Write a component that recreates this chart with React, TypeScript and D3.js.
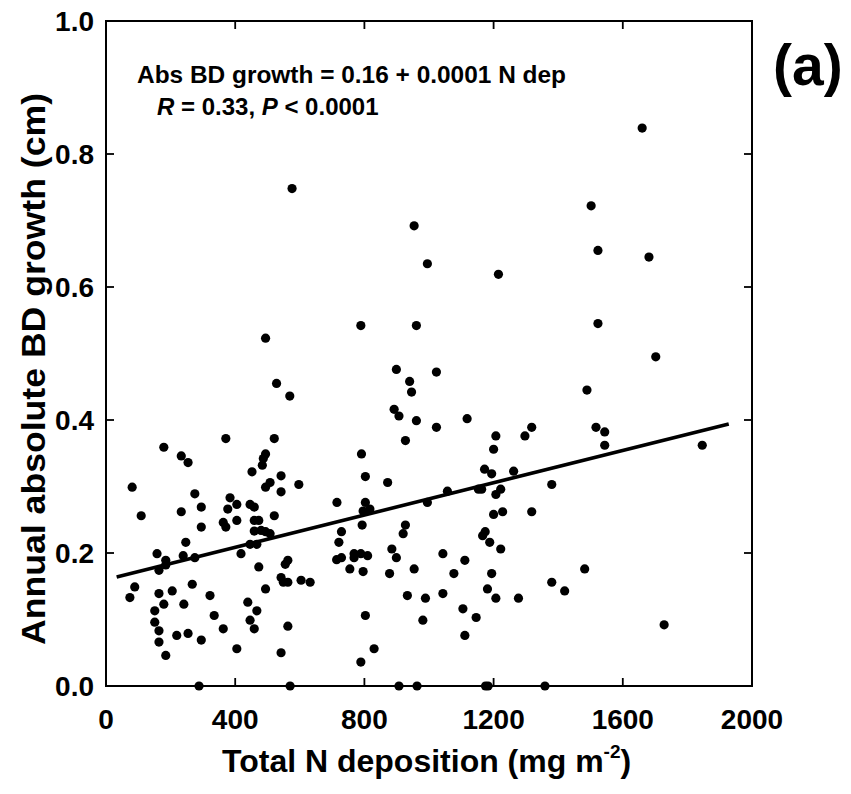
import React from "react";
import * as d3 from "d3";

// Total N deposition (mg m-2)
const nDep: number[] = [
  494, 528, 569, 371, 521, 179, 233, 254, 494, 487, 484, 452, 542, 508, 494, 542, 597, 81, 275, 384,
  377, 405, 295, 233, 446, 459, 109, 521, 363, 371, 405, 295, 459, 473, 459, 480, 494, 508, 247, 446,
  467, 158, 185, 185, 164, 239, 275, 418, 563, 555, 473, 542, 549, 563, 604, 632, 89, 74, 164, 205,
  267, 494, 322, 179, 241, 151, 439, 467, 335, 151, 446, 164, 363, 459, 563, 219, 254, 295, 164, 405,
  185, 542, 288, 570, 576,
  954, 995, 1215, 789, 961, 899, 1023, 940, 946, 892, 907, 961, 1023, 1118, 927, 1207, 1297, 1318, 1200, 791,
  803, 872, 1172, 1194, 1262, 1380, 715, 803, 817, 796, 995, 1057, 1153, 1163, 1222, 1207, 1200, 1228, 1318, 793,
  927, 920, 729, 721, 729, 714, 1174, 1166, 1188, 1222, 885, 768, 789, 810, 768, 899, 1043, 1111, 755, 796,
  878, 954, 1077, 1194, 1380, 933, 989, 1043, 1181, 1207, 1277, 1105, 1146, 803, 981, 1111, 830, 789,
  907, 963, 1175, 1183, 1359,
  1660, 1502, 1523, 1681, 1523, 1702, 1489, 1517, 1544, 1544, 1846, 1482, 1420, 1728,
];

// Annual absolute BD growth (cm)
const growth: number[] = [
  0.523, 0.455, 0.436, 0.372, 0.372, 0.359, 0.346, 0.336, 0.349, 0.342, 0.332, 0.322, 0.316, 0.306, 0.299, 0.292, 0.303, 0.299, 0.289, 0.283,
  0.266, 0.273, 0.269, 0.262, 0.273, 0.269, 0.256, 0.256, 0.246, 0.239, 0.249, 0.239, 0.249, 0.249, 0.233, 0.234, 0.232, 0.229, 0.216, 0.213,
  0.213, 0.199, 0.189, 0.182, 0.174, 0.196, 0.193, 0.199, 0.189, 0.183, 0.179, 0.163, 0.156, 0.156, 0.159, 0.156, 0.149, 0.133, 0.139, 0.143,
  0.153, 0.146, 0.136, 0.123, 0.123, 0.113, 0.126, 0.113, 0.106, 0.096, 0.099, 0.083, 0.086, 0.086, 0.09, 0.076, 0.079, 0.069, 0.066, 0.056,
  0.046, 0.05, 0, 0, 0.748,
  0.692, 0.635, 0.619, 0.542, 0.542, 0.476, 0.472, 0.458, 0.442, 0.416, 0.406, 0.399, 0.389, 0.402, 0.369, 0.376, 0.376, 0.389, 0.356, 0.349,
  0.315, 0.306, 0.326, 0.319, 0.323, 0.303, 0.276, 0.276, 0.266, 0.263, 0.276, 0.293, 0.296, 0.296, 0.296, 0.288, 0.258, 0.262, 0.262, 0.242,
  0.242, 0.229, 0.232, 0.216, 0.193, 0.19, 0.232, 0.226, 0.216, 0.206, 0.206, 0.199, 0.199, 0.196, 0.193, 0.193, 0.199, 0.189, 0.176, 0.172,
  0.169, 0.176, 0.169, 0.169, 0.156, 0.136, 0.132, 0.139, 0.146, 0.132, 0.132, 0.116, 0.103, 0.106, 0.099, 0.076, 0.056, 0.036,
  0, 0, 0, 0, 0,
  0.839, 0.722, 0.655, 0.645, 0.545, 0.495, 0.445, 0.389, 0.382, 0.362, 0.362, 0.176, 0.143, 0.092,
];

// Regression line endpoints
const fitX: number[] = [33, 1928];
const fitY: number[] = [0.164, 0.394];

const xTicks: number[] = [0, 400, 800, 1200, 1600, 2000];
const yTicks: number[] = [0, 0.2, 0.4, 0.6, 0.8, 1.0];

const FONT = "'Liberation Sans', Arial, Helvetica, sans-serif";

export default function App() {
  const W = 851;
  const H = 794;
  const left = 106, right = 752, top = 21, bottom = 686;
  const x = d3.scaleLinear().domain([0, 2000]).range([left, right]);
  const y = d3.scaleLinear().domain([0, 1]).range([bottom, top]);
  const tickLen = 8;

  const line = d3
    .line<number>()
    .x((d) => x(d))
    .y((_, i) => y(fitY[i]));

  return (
    <svg
      width={W}
      height={H}
      style={{ position: "absolute", left: 0, top: 0, background: "#fff" }}
      fontFamily={FONT}
    >
      <rect x={0} y={0} width={W} height={H} fill="#fff" />
      {/* points */}
      <g fill="#000">
        {nDep.map((d, i) => (
          <circle key={i} cx={x(d)} cy={y(growth[i])} r={4.6} />
        ))}
      </g>
      {/* regression line */}
      <path d={line(fitX) || ""} stroke="#000" strokeWidth={3.6} fill="none" />

      {/* frame */}
      <rect
        x={left}
        y={top}
        width={right - left}
        height={bottom - top}
        fill="none"
        stroke="#000"
        strokeWidth={2}
      />
      {/* x ticks */}
      {xTicks.map((t) => (
        <g key={"x" + t}>
          <line x1={x(t)} x2={x(t)} y1={bottom} y2={bottom - tickLen} stroke="#000" strokeWidth={1.8} />
          <line x1={x(t)} x2={x(t)} y1={top} y2={top + tickLen} stroke="#000" strokeWidth={1.8} />
          <text x={x(t)} y={729} textAnchor="middle" fontSize={28} fontWeight="bold">
            {t}
          </text>
        </g>
      ))}
      {/* y ticks */}
      {yTicks.map((t) => (
        <g key={"y" + t}>
          <line x1={left} x2={left + tickLen} y1={y(t)} y2={y(t)} stroke="#000" strokeWidth={1.8} />
          <line x1={right} x2={right - tickLen} y1={y(t)} y2={y(t)} stroke="#000" strokeWidth={1.8} />
          <text x={94} y={y(t) + 10} textAnchor="end" fontSize={28} fontWeight="bold">
            {t.toFixed(1)}
          </text>
        </g>
      ))}

      {/* axis titles */}
      <text x={222} y={772} fontSize={32} fontWeight="bold">
        Total N deposition (mg m<tspan fontSize={19} dy={-14}>-2</tspan>
        <tspan dy={14}>)</tspan>
      </text>
      <text
        transform={`translate(45, 645) rotate(-90)`}
        fontSize={34}
        fontWeight="bold"
        textLength={552}
        lengthAdjust="spacingAndGlyphs"
      >
        Annual absolute BD growth (cm)
      </text>

      {/* annotation */}
      <text x={137} y={83} fontSize={24} fontWeight="bold" textLength={429} lengthAdjust="spacingAndGlyphs">
        Abs BD growth = 0.16 + 0.0001 N dep
      </text>
      <text x={157} y={115} fontSize={24} fontWeight="bold">
        <tspan fontStyle="italic">R</tspan> = 0.33, <tspan fontStyle="italic">P</tspan> &lt; 0.0001
      </text>

      <text x={773} y={85} fontSize={57} fontWeight="bold">
        (a)
      </text>
    </svg>
  );
}
